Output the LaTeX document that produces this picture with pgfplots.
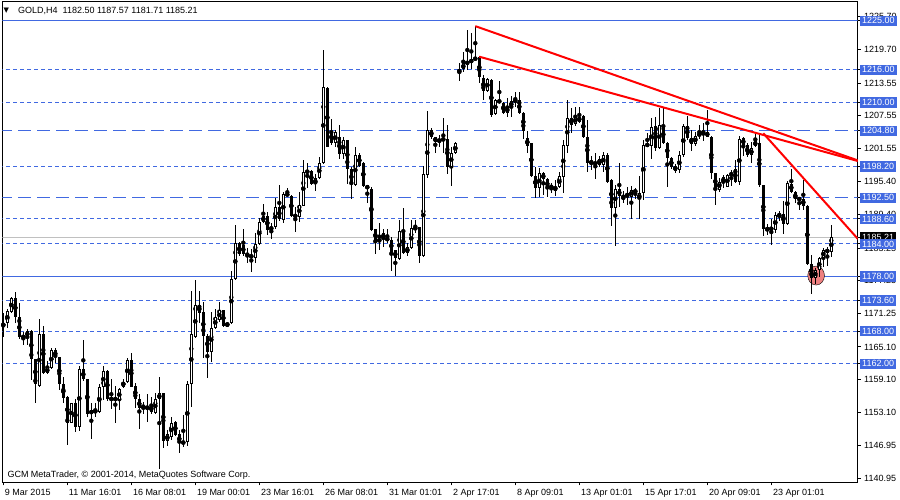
\documentclass[border=0pt]{standalone}
\usepackage{pgfplots}
\pgfplotsset{compat=1.18}
\usepackage{pgfplotstable}
\usepackage{fontspec}
\setmainfont{Liberation Sans}
\newfontfamily\dejavu{DejaVu Sans}
\definecolor{mtblue}{RGB}{65,105,225}
\definecolor{mtsilver}{RGB}{192,192,192}
\definecolor{mtred}{RGB}{255,0,0}
\definecolor{mtpink}{RGB}{238,128,128}
\newcommand\mtf{\fontsize{9pt}{10pt}\selectfont}
\newcommand\bbox[1]{{\setlength\fboxsep{2pt}\colorbox{mtblue}{\textcolor{white}{#1}}}}
\newcommand\kbox[1]{{\setlength\fboxsep{2pt}\colorbox{black}{\textcolor{white}{#1}}}}

\pgfplotstableread{
i o h l c
0 1168.94 1171.27 1166.86 1169.43
1 1169.43 1172.00 1168.64 1171.70
2 1171.58 1174.33 1171.39 1174.02
3 1174.02 1175.19 1169.43 1170.54
4 1170.54 1173.11 1166.62 1166.86
5 1167.11 1167.90 1165.46 1166.80
6 1166.99 1168.39 1165.46 1167.97
7 1168.03 1168.21 1159.03 1162.82
8 1162.82 1162.90 1154.87 1158.23
9 1157.99 1170.17 1157.81 1167.41
10 1167.41 1168.94 1160.13 1160.25
11 1160.25 1162.52 1160.13 1161.36
12 1161.17 1164.84 1160.99 1164.54
13 1164.54 1164.84 1162.09 1163.19
14 1163.19 1163.25 1157.19 1158.23
15 1158.23 1159.64 1154.75 1155.66
16 1155.97 1156.09 1147.10 1151.20
17 1151.20 1154.87 1151.08 1154.75
18 1154.87 1155.48 1149.54 1150.34
19 1150.34 1161.60 1149.67 1160.99
20 1160.99 1166.37 1158.91 1159.15
21 1159.15 1159.25 1152.30 1152.73
22 1152.73 1154.87 1148.20 1153.52
23 1153.52 1154.75 1152.17 1153.03
24 1153.21 1158.30 1152.91 1157.68
25 1157.68 1161.60 1155.36 1160.68
26 1160.68 1160.87 1155.24 1155.54
27 1155.60 1159.21 1153.65 1155.50
28 1155.50 1157.93 1151.08 1155.55
29 1155.36 1157.50 1153.52 1157.32
30 1157.81 1159.15 1157.50 1158.72
31 1158.72 1163.01 1158.42 1162.70
32 1162.70 1163.93 1157.68 1157.81
33 1157.93 1158.54 1153.83 1155.48
34 1155.48 1156.46 1150.03 1153.83
35 1153.83 1155.05 1152.79 1154.44
36 1153.65 1156.46 1151.38 1154.26
37 1154.26 1155.97 1152.73 1153.21
38 1153.03 1156.70 1152.73 1155.48
39 1155.48 1159.64 1142.60 1156.58
40 1156.58 1156.70 1146.48 1147.89
41 1147.89 1149.85 1146.91 1149.05
42 1148.50 1152.30 1148.02 1151.20
43 1151.32 1151.57 1148.81 1148.93
44 1149.05 1149.85 1145.57 1147.40
45 1147.60 1152.60 1146.79 1147.50
46 1147.58 1158.85 1146.91 1158.23
47 1158.23 1175.37 1154.13 1167.41
48 1166.86 1177.39 1166.80 1172.74
49 1172.74 1175.37 1169.56 1171.39
50 1171.45 1173.29 1163.01 1167.11
51 1167.11 1167.48 1159.34 1164.23
52 1164.23 1171.58 1162.27 1168.64
53 1168.64 1172.00 1168.46 1170.54
54 1170.05 1173.41 1169.74 1171.88
55 1171.88 1171.95 1168.82 1168.94
56 1168.94 1169.74 1168.82 1169.43
57 1169.43 1179.10 1169.31 1177.57
58 1177.51 1187.49 1177.40 1184.12
59 1184.12 1184.31 1181.80 1182.10
60 1183.82 1186.69 1181.80 1182.16
61 1182.29 1183.21 1180.57 1181.80
62 1181.98 1183.02 1178.92 1181.49
63 1181.49 1186.08 1180.57 1184.00
64 1184.00 1188.83 1183.82 1187.98
65 1187.98 1191.34 1187.80 1189.20
66 1189.20 1189.94 1185.65 1186.57
67 1186.57 1187.80 1184.86 1187.18
68 1187.18 1192.38 1186.69 1190.73
69 1190.73 1194.83 1188.28 1188.53
70 1188.40 1193.61 1187.92 1193.12
71 1193.30 1194.22 1192.80 1192.87
72 1192.81 1192.99 1189.02 1189.20
73 1189.32 1190.85 1186.26 1189.02
74 1189.02 1193.49 1188.10 1191.16
75 1191.04 1199.42 1190.98 1197.28
76 1197.28 1198.81 1194.22 1197.30
77 1197.46 1197.59 1194.83 1194.95
78 1194.95 1196.85 1193.79 1196.06
79 1196.06 1200.03 1195.88 1198.81
80 1198.81 1219.62 1198.75 1212.76
81 1212.58 1212.76 1201.75 1201.87
82 1204.81 1206.89 1202.18 1202.48
83 1202.48 1204.93 1201.75 1204.62
84 1203.58 1205.85 1199.54 1200.46
85 1200.52 1203.71 1199.54 1203.09
86 1203.09 1203.15 1194.95 1197.71
87 1197.71 1198.20 1192.20 1194.95
88 1194.83 1201.87 1194.65 1200.34
89 1200.34 1200.64 1198.08 1198.32
90 1198.93 1199.11 1194.53 1194.65
91 1194.83 1194.90 1191.59 1194.04
92 1194.04 1194.53 1186.45 1186.57
93 1186.75 1186.80 1182.17 1184.43
94 1184.43 1187.80 1182.90 1184.92
95 1184.86 1186.69 1183.51 1186.08
96 1185.16 1186.69 1184.12 1184.61
97 1184.73 1185.35 1179.10 1182.59
98 1182.90 1182.95 1178.13 1181.37
99 1181.19 1188.40 1181.06 1186.39
100 1186.57 1190.55 1182.17 1182.29
101 1182.29 1184.12 1181.80 1183.39
102 1183.21 1188.40 1183.02 1186.88
103 1186.69 1188.40 1185.96 1187.06
104 1187.06 1187.18 1180.57 1181.80
105 1181.80 1198.32 1181.67 1196.85
106 1196.67 1208.48 1196.06 1204.93
107 1204.93 1205.24 1203.22 1203.71
108 1203.58 1203.65 1200.77 1202.79
109 1203.22 1204.01 1201.87 1202.79
110 1202.91 1207.07 1200.77 1203.52
111 1203.28 1205.85 1196.85 1198.20
112 1198.20 1201.75 1194.71 1200.77
113 1200.64 1202.79 1200.52 1202.48
114 1215.46 1217.17 1213.99 1216.07
115 1216.07 1219.32 1215.64 1217.17
116 1217.25 1223.29 1215.95 1217.30
117 1217.30 1222.68 1216.07 1217.90
118 1217.79 1224.05 1217.70 1218.28
119 1218.28 1218.52 1213.50 1214.60
120 1214.42 1215.03 1210.44 1212.15
121 1212.15 1214.42 1211.97 1214.24
122 1214.11 1214.24 1207.38 1207.69
123 1207.87 1210.56 1207.69 1210.44
124 1210.44 1213.99 1209.83 1209.95
125 1209.95 1210.14 1207.87 1208.00
126 1208.12 1210.75 1207.38 1209.09
127 1209.09 1211.18 1207.26 1210.26
128 1210.44 1211.97 1209.22 1210.14
129 1210.44 1211.97 1207.87 1208.00
130 1208.12 1208.20 1203.22 1204.75
131 1203.40 1204.75 1200.65 1202.00
132 1202.49 1202.55 1196.37 1196.49
133 1196.49 1198.20 1192.39 1194.22
134 1194.22 1197.90 1192.69 1196.98
135 1196.98 1197.29 1193.00 1195.88
136 1195.88 1196.06 1192.69 1194.22
137 1194.53 1195.14 1193.31 1194.50
138 1193.80 1195.75 1192.82 1194.53
139 1194.41 1197.29 1194.22 1196.49
140 1196.37 1203.09 1193.43 1202.18
141 1202.00 1210.44 1200.65 1207.08
142 1207.08 1208.91 1204.32 1205.85
143 1206.04 1209.09 1205.67 1207.38
144 1206.47 1209.22 1206.16 1207.38
145 1207.51 1207.69 1203.52 1203.71
146 1203.71 1206.77 1197.29 1198.81
147 1198.81 1200.16 1197.59 1199.24
148 1199.12 1200.65 1195.88 1198.51
149 1198.51 1200.16 1198.08 1199.55
150 1198.51 1200.96 1197.29 1200.34
151 1200.34 1200.65 1195.14 1195.45
152 1195.75 1195.88 1187.31 1190.55
153 1190.55 1194.83 1183.63 1194.04
154 1194.04 1198.81 1190.86 1192.82
155 1192.82 1193.80 1191.59 1192.20
156 1192.69 1194.53 1191.16 1193.31
157 1192.69 1194.65 1188.53 1193.92
158 1193.92 1194.22 1192.20 1193.43
159 1192.20 1196.49 1188.53 1193.31
160 1193.31 1203.09 1192.00 1202.18
161 1202.36 1204.32 1201.88 1202.00
162 1202.00 1207.08 1199.55 1205.42
163 1205.67 1207.38 1201.14 1201.57
164 1201.57 1208.91 1201.38 1205.85
165 1205.70 1208.91 1202.40 1202.55
166 1202.55 1202.70 1194.50 1199.73
167 1199.73 1200.03 1197.71 1198.08
168 1198.30 1198.70 1197.10 1197.50
169 1197.50 1201.00 1197.00 1200.30
170 1200.30 1206.00 1200.00 1205.70
171 1205.70 1207.45 1203.10 1203.40
172 1203.40 1205.00 1201.00 1202.40
173 1202.40 1204.50 1202.00 1203.80
174 1204.00 1205.80 1203.30 1204.20
175 1204.00 1206.20 1202.90 1204.60
176 1204.60 1208.70 1203.70 1203.72
177 1203.70 1203.80 1195.90 1197.00
178 1197.00 1197.05 1191.20 1194.00
179 1194.00 1196.20 1193.60 1195.45
180 1195.14 1196.67 1194.20 1196.36
181 1194.53 1196.85 1194.40 1196.67
182 1196.49 1197.59 1194.65 1197.10
183 1197.71 1199.42 1195.14 1195.45
184 1195.45 1203.83 1194.83 1203.22
185 1203.40 1203.70 1200.16 1202.18
186 1202.18 1202.50 1200.00 1200.34
187 1200.34 1202.79 1198.93 1201.56
188 1202.00 1204.60 1201.80 1202.90
189 1202.60 1204.40 1194.50 1194.83
190 1194.83 1194.90 1185.50 1186.80
191 1186.80 1187.60 1185.70 1186.70
192 1186.90 1188.60 1183.80 1186.70
193 1186.60 1189.90 1186.10 1189.30
194 1189.00 1190.00 1188.30 1189.60
195 1189.50 1191.90 1185.80 1187.67
196 1187.67 1195.50 1187.50 1195.14
197 1195.10 1197.70 1193.40 1193.61
198 1193.50 1193.70 1191.60 1192.20
199 1192.20 1192.70 1190.30 1192.30
200 1192.30 1195.75 1190.30 1190.98
201 1191.00 1191.20 1180.15 1180.40
202 1180.40 1182.00 1174.90 1177.80
203 1177.80 1179.60 1176.70 1179.20
204 1179.20 1181.70 1177.90 1181.37
205 1181.37 1183.20 1179.70 1183.00
206 1182.95 1183.40 1180.00 1182.50
207 1182.50 1187.57 1181.71 1185.21
}\candles

\begin{document}
\begin{tikzpicture}
\useasboundingbox (0,0) rectangle (900pt,500pt);
\begin{axis}[
  at={(2.5pt,17.5pt)}, anchor=south west,
  scale only axis, width=855pt, height=480.5pt,
  xmin=-0.2, xmax=213.55, ymin=1140.203, ymax=1228.434,
  axis line style={line width=1pt, black},
  clip mode=individual,
  tick align=outside, major tick length=3pt,
  tick style={black, line width=1pt},
  xtick pos=left, ytick pos=right, yticklabel pos=right,
  xtick={0,16,...,192},
  xticklabels={9 Mar 2015,11 Mar 16:01,16 Mar 08:01,19 Mar 00:01,23 Mar 16:01,26 Mar 08:01,31 Mar 01:01,2 Apr 17:01,8 Apr 09:01,13 Apr 01:01,15 Apr 17:01,20 Apr 09:01,23 Apr 01:01},
  xticklabel style={font=\mtf, anchor=north west, inner sep=0pt, xshift=1.5pt, yshift=-4pt},
  ytick={1140.95,1146.95,1153.10,1159.10,1165.10,1171.25,1177.25,1183.25,1189.40,1195.40,1201.55,1207.55,1213.55,1219.70,1225.70},
  yticklabels={1140.95,1146.95,1153.10,1159.10,1165.10,1171.25,1177.25,1183.25,1189.40,1195.40,1201.55,1207.55,1213.55,1219.70,1225.70},
  yticklabel style={font=\mtf, anchor=west, inner sep=0pt, xshift=3.5pt},
  extra y ticks={1225,1216,1210,1204.8,1198.2,1192.5,1188.6,1185.21,1184,1178,1173.6,1168,1162},
  extra y tick labels={\bbox{1225.00},\bbox{1216.00},\bbox{1210.00},\bbox{1204.80},\bbox{1198.20},\bbox{1192.50},\bbox{1188.60},\kbox{1185.21},\bbox{1184.00},\bbox{1178.00},\bbox{1173.60},\bbox{1168.00},\bbox{1162.00}},
  extra y tick style={yticklabel style={xshift=-4pt}},
]
% horizontal levels
\addplot[mtblue, line width=1pt] coordinates {(-1,1225) (215,1225)};
\addplot[mtblue, line width=1pt, dash pattern=on 4pt off 3pt] coordinates {(-1,1216) (215,1216)};
\addplot[mtblue, line width=1pt, dash pattern=on 4pt off 3pt] coordinates {(-1,1210) (215,1210)};
\addplot[mtblue, line width=1pt, dash pattern=on 13pt off 6pt] coordinates {(-1,1204.8) (215,1204.8)};
\addplot[mtblue, line width=1pt, dash pattern=on 4pt off 3pt] coordinates {(-1,1198.2) (215,1198.2)};
\addplot[mtblue, line width=1pt, dash pattern=on 13pt off 6pt] coordinates {(-1,1192.5) (215,1192.5)};
\addplot[mtblue, line width=1pt, dash pattern=on 4pt off 3pt] coordinates {(-1,1188.6) (215,1188.6)};
\addplot[mtsilver, line width=1pt] coordinates {(-1,1185.21) (215,1185.21)};
\addplot[mtblue, line width=1pt, dash pattern=on 4pt off 3pt] coordinates {(-1,1184) (215,1184)};
\addplot[mtblue, line width=1pt] coordinates {(-1,1178) (215,1178)};
\addplot[mtblue, line width=1pt, dash pattern=on 4pt off 3pt] coordinates {(-1,1173.6) (215,1173.6)};
\addplot[mtblue, line width=1pt, dash pattern=on 4pt off 3pt] coordinates {(-1,1168) (215,1168)};
\addplot[mtblue, line width=1pt, dash pattern=on 4pt off 3pt] coordinates {(-1,1162) (215,1162)};
% highlight ellipse
\addplot[only marks, mark=*, mark size=9.5pt, mark options={xscale=0.88, fill=mtpink, draw=none}] coordinates {(203.2,1178.2)};
% wicks
\addplot[only marks, mark=none, error bars/.cd, y dir=both, y explicit, error mark=none,
  error bar style={black, line width=1pt}]
  table[x=i, y expr={(\thisrow{h}+\thisrow{l})/2}, y error expr={(\thisrow{h}-\thisrow{l})/2}] {\candles};
% bodies (outline / black)
\addplot[only marks, mark=none, error bars/.cd, y dir=both, y explicit, error mark=none,
  error bar style={black, line width=3pt}]
  table[x=i, y expr={(\thisrow{o}+\thisrow{c})/2}, y error expr={max(abs(\thisrow{o}-\thisrow{c})/2,0.092)}] {\candles};
% white interiors of rising candles
\addplot[only marks, mark=none, error bars/.cd, y dir=both, y explicit, error mark=none,
  error bar style={white, line width=1pt}]
  table[x=i, y expr={(\thisrow{o}+\thisrow{c})/2}, y error expr={\thisrow{c}>\thisrow{o} ? max((\thisrow{c}-\thisrow{o})/2-0.184,0) : 0}] {\candles};
% trend lines
\addplot[mtred, line width=2pt] coordinates {(118,1224.0) (214,1199.25)};
\addplot[mtred, line width=2pt] coordinates {(119,1218.39) (214,1199.16)};
\addplot[mtred, line width=2pt] coordinates {(190,1204.32) (214,1184.64)};
\end{axis}
\node[anchor=base west, font=\dejavu\fontsize{7pt}{8pt}\selectfont, inner sep=0pt] at (3.5pt,487pt) {▼};
\node[anchor=base west, font=\mtf, inner sep=0pt] at (18pt,486pt) {GOLD,H4\ \ 1182.50 1187.57 1181.71 1185.21};
\node[anchor=base west, font=\mtf, inner sep=0pt] at (7.3pt,22pt) {GCM MetaTrader, © 2001-2014, MetaQuotes Software Corp.};
\end{tikzpicture}
\end{document}
